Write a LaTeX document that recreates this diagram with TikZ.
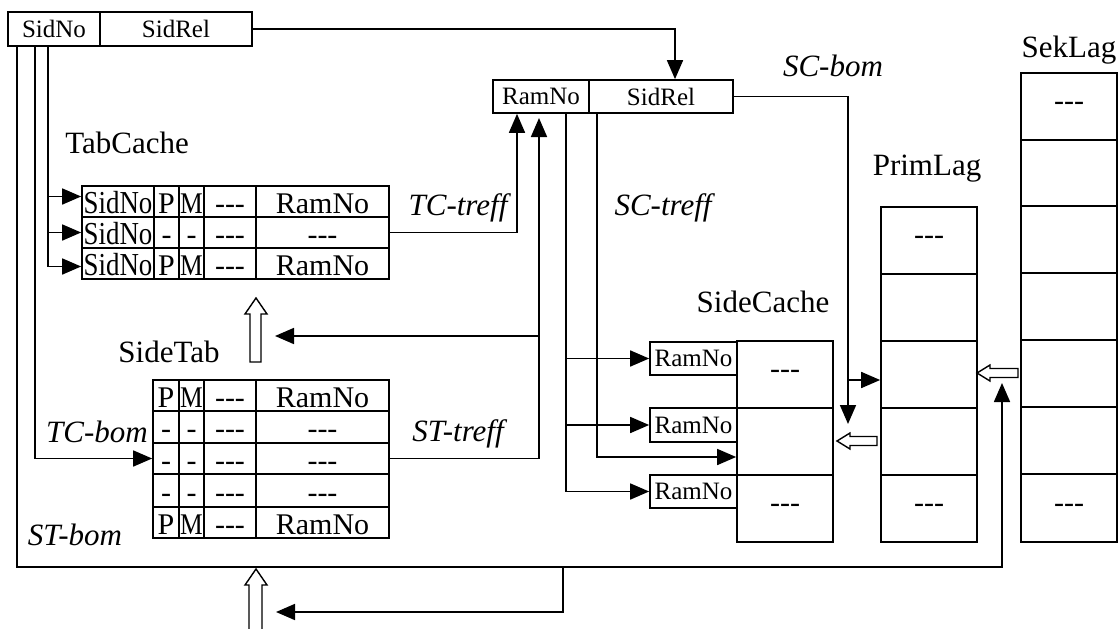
\documentclass[tikz,border=0pt]{standalone}
\usepackage{fontspec}
\setmainfont{Liberation Serif}[Ligatures=TeXOff]
\usetikzlibrary{arrows.meta}
\newcommand\ddd{-\kern0pt-\kern0pt-}
\newcommand\cellat[7][]{%
  \pgfmathsetmacro\cwd{#5-#3}\pgfmathsetmacro\cht{#6-#4}%
  \node[cellbox,#1,minimum width=\cwd pt,minimum height=\cht pt] (#2) at ({(#3+#5)/2},{(#4+#6)/2}) {#7};}
\newcommand\tcrow[7]{% prefix y1 y2 b c d e
  \cellat[tcell]{#1a}{82}{#2}{154}{#3}{\scalebox{0.84}[1]{\fontsize{32}{34}\selectfont SidNo}}
  \cellat[tcell]{#1b}{154}{#2}{179}{#3}{#4}
  \cellat[tcell]{#1c}{179}{#2}{204}{#3}{#5}
  \cellat[tcell]{#1d}{204}{#2}{256}{#3}{#6}
  \cellat[tcell]{#1e}{256}{#2}{389}{#3}{#7}}
\newcommand\strow[7]{% prefix y1 y2 b c d e
  \cellat[tcell]{#1b}{153}{#2}{179}{#3}{#4}
  \cellat[tcell]{#1c}{179}{#2}{204}{#3}{#5}
  \cellat[tcell]{#1d}{204}{#2}{256}{#3}{#6}
  \cellat[tcell]{#1e}{256}{#2}{389}{#3}{#7}}
\begin{document}
\begin{tikzpicture}[x=1pt,y=-1pt,line width=1.7pt,
  cellbox/.style={draw,inner sep=0pt,font=\fontsize{30}{32}\selectfont},
  tcell/.style={text height=26pt,text depth=3pt},
  topf/.style={font=\fontsize{25}{27}\selectfont},
  lbl/.style={font=\fontsize{31}{33}\selectfont,anchor=base,inner sep=0pt},
  ilbl/.style={font=\fontsize{31}{33}\selectfont\itshape,anchor=base,inner sep=0pt},
  conn/.style={-{Triangle[length=19pt,width=16pt]}},
  hollow/.style={draw,fill=white,line width=1.4pt}]
\useasboundingbox (0,0) rectangle (1119,629);

% top record
\cellat[topf]{sidno}{8}{12}{100}{46}{SidNo}
\cellat[topf]{sidrel}{100}{12}{252}{46}{SidRel\hspace{36pt}}
% RamNo/SidRel record
\cellat[topf]{rramno}{493}{80}{589}{113}{RamNo}
\cellat[topf]{rsidrel}{589}{80}{733}{113}{SidRel\hspace{14pt}}

% TabCache
\tcrow{tca}{186}{217}{P}{\scalebox{0.85}[1]{M}}{\ddd}{RamNo}
\tcrow{tcb}{217}{248}{-}{-}{\ddd}{\ddd}
\tcrow{tcc}{248}{279}{P}{\scalebox{0.85}[1]{M}}{\ddd}{RamNo}

% SideTab
\strow{sta}{380}{411}{P}{\scalebox{0.85}[1]{M}}{\ddd}{RamNo}
\strow{stb}{411}{443}{-}{-}{\ddd}{\ddd}
\strow{stc}{443}{474}{-}{-}{\ddd}{\ddd}
\strow{std}{474}{507}{-}{-}{\ddd}{\ddd}
\strow{ste}{507}{538}{P}{\scalebox{0.85}[1]{M}}{\ddd}{RamNo}

% SideCache
\cellat{sca}{737}{341}{833}{408}{\ddd}
\cellat{scb}{737}{408}{833}{475}{}
\cellat{scc}{737}{475}{833}{542}{\ddd}
\cellat[topf]{rna}{650}{342}{737}{375}{RamNo}
\cellat[topf]{rnb}{650}{408}{737}{442}{RamNo}
\cellat[topf]{rnc}{650}{475}{737}{508}{RamNo}

% PrimLag
\cellat{pla}{881}{207}{977}{274}{\ddd}
\cellat{plb}{881}{274}{977}{341}{}
\cellat{plc}{881}{341}{977}{408}{}
\cellat{pld}{881}{408}{977}{475}{}
\cellat{ple}{881}{475}{977}{542}{\ddd}

% SekLag
\cellat{ska}{1021}{73}{1117}{140}{\ddd}
\cellat{skb}{1021}{140}{1117}{206}{}
\cellat{skc}{1021}{206}{1117}{273}{}
\cellat{skd}{1021}{273}{1117}{340}{}
\cellat{ske}{1021}{340}{1117}{407}{}
\cellat{skf}{1021}{407}{1117}{474}{}
\cellat{skg}{1021}{474}{1117}{542}{\ddd}

% labels
\node[lbl] (lTC) at (127,153) {TabCache};
\node[lbl] (lST) at (169,362) {SideTab};
\node[lbl] (lSC) at (763,312) {SideCache};
\node[lbl] (lPL) at (927,175) {PrimLag};
\node[lbl] (lSK) at (1069,57) {SekLag};
\node[ilbl] (lTCt) at (458,215) {TC-treff};
\node[ilbl] (lSCt) at (663,215) {SC-treff};
\node[ilbl] (lSTt) at (458,441) {ST-treff};
\node[ilbl] (lSCb) at (833,76) {SC-bom};
\node[ilbl] (lTCb) at (97,442) {TC-bom};
\node[ilbl] (lSTb) at (75,545) {ST-bom};

% junction coordinates
\coordinate (x17) at (17,46);
\coordinate (x35) at (35,46);
\coordinate (x48) at (48,46);
\coordinate (sbC) at (1002,567);
\coordinate (sbT) at (1002,383);
\coordinate (bj) at (563,567);
\coordinate (bT) at (276,612);
\coordinate (up2) at (539,118);
\coordinate (stj) at (539,336);
\coordinate (stT) at (275,336);
\coordinate (scbT) at (848,424);
\coordinate (plj) at (848,380);

% connectors
\draw[conn] (sidrel.east) -| ([xshift=14pt]rsidrel.north);
\draw[conn] (x48) |- ([yshift=5pt]tcaa.west);
\draw[conn] (x48) |- (tcba.west);
\draw[conn] (x48) |- ([yshift=-3pt]tcca.west);
\draw[conn] (x35) |- (stcb.west);
\draw[conn] (x17) |- (sbC) -- (sbT);
\draw[conn] (bj) |- (bT);
\draw[conn] (tcbe.east) -| ([xshift=-24pt]rramno.south);
\draw[conn] (stce.east) -| (up2);
\draw[conn] (stj) -- (stT);
\draw[conn] ([xshift=25pt]rramno.south) |- (rna.west);
\draw[conn] ([xshift=25pt]rramno.south) |- (rnb.west);
\draw[conn] ([xshift=25pt]rramno.south) |- (rnc.west);
\draw[conn] ([xshift=9pt]rsidrel.south west) |- ([yshift=-15.5pt]scb.west);
\draw[conn] (rsidrel.east) -| (scbT);
\draw[conn] (plj) -- ([yshift=-5.5pt]plc.west);

% hollow block arrows
\draw[hollow] (250,362) -- (250,314) -- (245,314) -- (256,298) -- (267,314) -- (261,314) -- (261,362) -- cycle;
\draw[hollow] (249,640) -- (249,585) -- (245,585) -- (256,569) -- (267,585) -- (262,585) -- (262,640) -- cycle;
\draw[hollow] (1018,368.5) -- (990,368.5) -- (990,365) -- (977,373) -- (990,381) -- (990,377.5) -- (1018,377.5) -- cycle;
\draw[hollow] (877,436.5) -- (850,436.5) -- (850,433) -- (837,441) -- (850,449) -- (850,445.5) -- (877,445.5) -- cycle;
\end{tikzpicture}
\end{document}
